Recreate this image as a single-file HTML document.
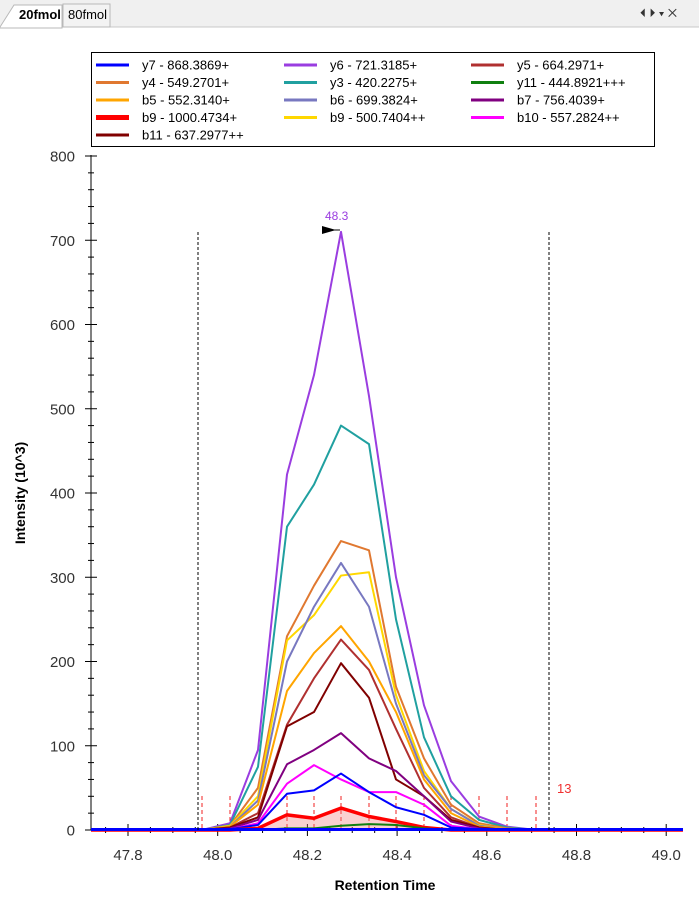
<!DOCTYPE html>
<html><head><meta charset="utf-8"><style>
body{margin:0;background:#fff;width:699px;height:902px;overflow:hidden;font-family:"Liberation Sans",Arial,sans-serif}
</style></head><body>
<svg id="s" width="699" height="902" xmlns="http://www.w3.org/2000/svg" font-family="Liberation Sans, Arial, sans-serif">
<rect x="0" y="0" width="699" height="27" fill="#f0f0f0"/>
<line x1="0" y1="27" x2="699" y2="27" stroke="#c8c8c8"/>
<path d="M0,27 L14,5 L62,5 L62,28 L0,28Z" fill="#fff" stroke="#b8b8b8"/>
<text x="19" y="19" font-size="13" font-weight="bold">20fmol</text>
<rect x="63" y="4" width="47" height="23" fill="#f3f3f3" stroke="#b8b8b8"/>
<text x="68" y="19" font-size="13">80fmol</text>
<text x="640" y="17" font-size="12" fill="#333">⏴ ⏵ ▾ ✕</text>
<rect x="91.5" y="52.5" width="563" height="94" fill="#fff" stroke="#000"/>
<g id="leg" font-size="13"></g>
<g id="ax"></g>
<g id="ser"></g>
<line x1="198" y1="232" x2="198" y2="830" stroke="#000" stroke-dasharray="3,2"/>
<line x1="549" y1="232" x2="549" y2="830" stroke="#000" stroke-dasharray="3,2"/>
<text x="325" y="220" font-size="12" fill="#9a3de0">48.3</text>
<path d="M322,226 L336,230 L322,234Z" fill="#000"/><line x1="322" y1="230" x2="340" y2="230" stroke="#000"/>
<text x="557" y="793" font-size="13" fill="#f03030">13</text>
<text x="385" y="890" font-size="14" font-weight="bold" text-anchor="middle">Retention Time</text>
<text transform="translate(25,493) rotate(-90)" font-size="14" font-weight="bold" text-anchor="middle">Intensity (10^3)</text>
</svg>
<script>
const NS="http://www.w3.org/2000/svg";
function el(p,t,a,txt){const e=document.createElementNS(NS,t);for(const k in a)e.setAttribute(k,a[k]);if(txt!=null)e.textContent=txt;document.getElementById(p).appendChild(e);return e;}
const leg=[["y7 - 868.3869+","#0000ff",3],["y6 - 721.3185+","#9a3de0",3],["y5 - 664.2971+","#b03030",3],
["y4 - 549.2701+","#e07830",3],["y3 - 420.2275+","#20a0a0",3],["y11 - 444.8921+++","#108010",3],
["b5 - 552.3140+","#ffa500",3],["b6 - 699.3824+","#7878c0",3],["b7 - 756.4039+","#800080",3],
["b9 - 1000.4734+","#ff0000",5],["b9 - 500.7404++","#ffd700",3],["b10 - 557.2824++","#ff00ff",3],
["b11 - 637.2977++","#800000",3]];
const lx=[96,284,471];
leg.forEach((l,i)=>{const c=i%3,r=Math.floor(i/3);const x=lx[c],y=65+r*17.5;
el("leg","line",{x1:x,y1:y,x2:x+33,y2:y,stroke:l[1],"stroke-width":l[2]});
el("leg","text",{x:x+46,y:y+4.5},l[0]);});
const Y=v=>830-v*0.8425, X=t=>217.7+(t-48)*448.5;
el("ax","line",{x1:91,y1:155,x2:91,y2:830,stroke:"#000"});
el("ax","line",{x1:91,y1:830,x2:683,y2:830,stroke:"#000"});
for(let v=0;v<=800;v+=20){const y=Y(v),maj=v%100==0;el("ax","line",{x1:maj?85:88,y1:y,x2:maj?97:94,y2:y,stroke:"#000"});
if(maj)el("ax","text",{x:75,y:y+5.5,"font-size":15,"text-anchor":"end",fill:"#333"},v);}
for(let k=0;k<=26;k++){const t=47.75+k*0.05;const x=X(t);if(x<92||x>683)continue;const maj=Math.abs(t*10-Math.round(t*10))<1e-6&&Math.round(t*10)%2==0;
el("ax","line",{x1:x,y1:maj?824:827,x2:x,y2:maj?836:833,stroke:"#000"});
if(maj)el("ax","text",{x:x,y:860,"font-size":15,"text-anchor":"middle",fill:"#333"},t.toFixed(1));}
const xs=[202,230,258,287,314,341,369,396,424,451,479,507,536];
xs.forEach(x=>{if(x!=258)el("ser","line",{x1:x,y1:796,x2:x,y2:830,stroke:"#f02020","stroke-dasharray":"4,3"});});
function ser(vals,col,w,fill){let pts=[[91,Y(0)]];xs.forEach((x,i)=>pts.push([x,Y(vals[i]||0)]));pts.push([683,Y(0)]);
const d=pts.map(p=>p.join(",")).join(" ");
if(fill)el("ser","polygon",{points:d,fill:fill});
el("ser","polyline",{points:d,fill:"none",stroke:col,"stroke-width":w,"stroke-linejoin":"round"});}
ser([0,8,95,422,540,710,515,300,148,58,16,4,0],"#9a3de0",2);
ser([0,6,75,360,410,480,458,250,110,40,12,3,0],"#20a0a0",2);
ser([0,5,50,230,290,343,332,170,85,30,8,2,0],"#e07830",2);
ser([0,5,40,225,255,302,306,160,70,25,6,1,0],"#ffd700",2);
ser([0,4,35,200,265,317,265,150,65,25,5,1,0],"#7878c0",2);
ser([0,4,30,165,210,242,200,140,60,20,4,1,0],"#ffa500",2);
ser([0,3,20,125,180,226,190,120,50,15,3,0,0],"#b03030",2);
ser([0,3,15,123,140,198,157,60,40,12,3,0,0],"#800000",2);
ser([0,2,12,78,95,115,85,70,40,10,2,0,0],"#800080",2);
ser([0,1,8,55,77,60,45,45,30,5,1,0,0],"#ff00ff",2);
ser([0,1,6,43,47,67,45,27,18,3,1,0,0],"#0000ff",2);
ser([0,0,2,18,14,26,16,10,3,0,0,0,0],"#ff0000",3.5,"rgba(240,120,120,0.35)");
ser([0,0,0,2,2,5,7,6,2,0,0,0,0],"#108010",2);
el("ser","line",{x1:91,y1:829.5,x2:683,y2:829.5,stroke:"#0000ff","stroke-width":3});
</script>
</body></html>
